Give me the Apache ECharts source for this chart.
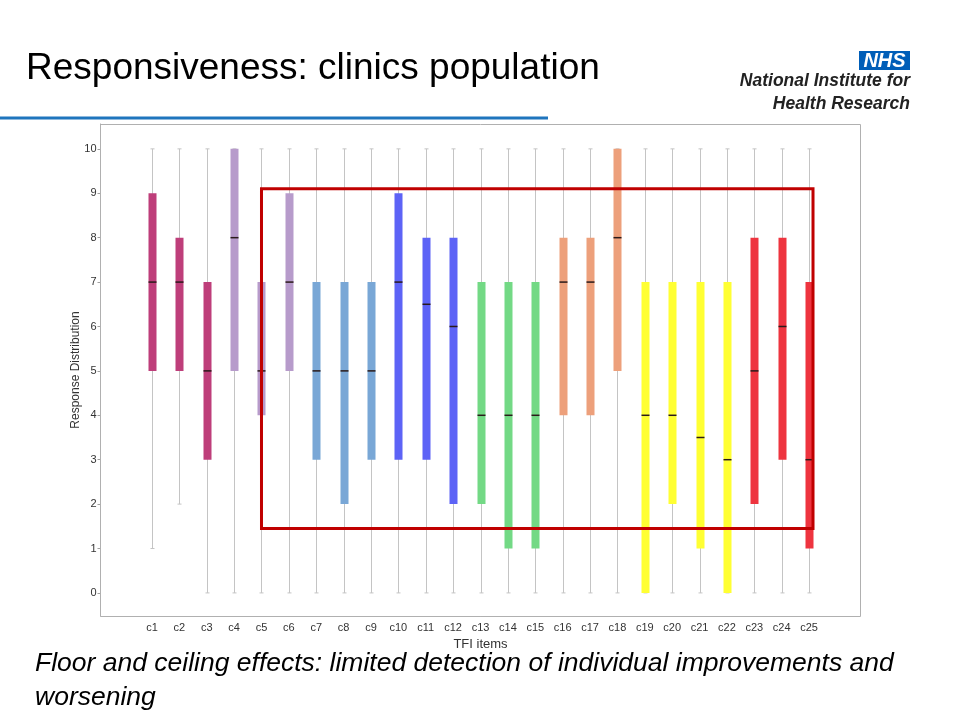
<!DOCTYPE html>
<html>
<head>
<meta charset="utf-8">
<script src="https://cdn.jsdelivr.net/npm/echarts@6/dist/echarts.min.js"></script>
<style>
html,body{margin:0;padding:0;background:#fff;}
#c{width:960px;height:720px;}
</style>
</head>
<body>
<div id="c"></div>
<script>
// ---- data ----
var categories = ['c1','c2','c3','c4','c5','c6','c7','c8','c9','c10','c11','c12','c13','c14','c15','c16','c17','c18','c19','c20','c21','c22','c23','c24','c25'];
var mins    = [1, 2, 0, 0, 0, 0, 0, 0, 0, 0, 0, 0, 0, 0, 0, 0, 0, 0, 0, 0, 0, 0, 0, 0, 0];
var q1s     = [5, 5, 3, 5, 4, 5, 3, 2, 3, 3, 3, 2, 2, 1, 1, 4, 4, 5, 0, 2, 1, 0, 2, 3, 1];
var medians = [7, 7, 5, 8, 5, 7, 5, 5, 5, 7, 6.5, 6, 4, 4, 4, 7, 7, 8, 4, 4, 3.5, 3, 5, 6, 3];
var q3s     = [9, 8, 7, 10, 7, 9, 7, 7, 7, 9, 8, 8, 7, 7, 7, 8, 8, 10, 7, 7, 7, 7, 8, 8, 7];
var maxs    = [10,10,10,10,10,10,10,10,10,10,10,10,10,10,10,10,10,10,10,10,10,10,10,10,10];
var yTicks  = [0,1,2,3,4,5,6,7,8,9,10];

// ---- styles ----
var boxColors = ['#be3e7a','#be3e7a','#be3e7a','#b79bcb','#b79bcb','#b79bcb','#79a7d6','#79a7d6','#79a7d6','#5d63f6','#5d63f6','#5d63f6','#73d985','#73d985','#73d985','#eda07b','#eda07b','#eda07b','#ffff33','#ffff33','#ffff33','#ffff33','#ee343f','#ee343f','#ee343f'];

var boxData = categories.map(function(c, i){
  return [i, mins[i], q1s[i], medians[i], q3s[i], maxs[i]];
});

var chart = echarts.init(document.getElementById('c'), null, {renderer:'canvas'});
var FONT = '"Liberation Sans", Arial, sans-serif';

var option = {
  backgroundColor: '#ffffff',
  animation: false,
  grid: { left: 138.3, right: 137.3, top: 124, bottom: 104, containLabel: false },
  xAxis: {
    type: 'category',
    data: categories,
    boundaryGap: true,
    name: 'TFI items',
    nameLocation: 'middle',
    nameGap: 20,
    nameTextStyle: { fontFamily: FONT, fontSize: 13, color: '#333' },
    axisLine: { onZero: false, lineStyle: { color: '#a0a0a0', width: 1 } },
    axisTick: { alignWithLabel: true, length: 3, lineStyle: { color: '#a0a0a0' } },
    axisLabel: { fontFamily: FONT, fontSize: 11, color: '#333', margin: 6, interval: 0 },
    splitLine: { show: false }
  },
  yAxis: {
    type: 'value',
    min: -0.52,
    max: 10.56,
    offset: 37.8,
    name: 'Response Distribution',
    nameLocation: 'middle',
    nameGap: 19,
    nameMoveOverlap: false,
    nameTextStyle: { fontFamily: FONT, fontSize: 12, color: '#333' },
    axisLine: { show: true, lineStyle: { color: '#a0a0a0', width: 1 } },
    axisTick: { show: true, length: 3, customValues: yTicks, lineStyle: { color: '#a0a0a0' } },
    axisLabel: { fontFamily: FONT, fontSize: 11, color: '#333', margin: 4, customValues: yTicks },
    splitLine: { show: false }
  },
  series: [{
    type: 'custom',
    data: boxData,
    encode: { x: 0, y: [1,2,3,4,5] },
    renderItem: function(params, api){
      var idx = api.value(0);
      var lo = api.coord([idx, api.value(1)]);
      var q1 = api.coord([idx, api.value(2)]);
      var md = api.coord([idx, api.value(3)]);
      var q3 = api.coord([idx, api.value(4)]);
      var hi = api.coord([idx, api.value(5)]);
      var x = Math.round(lo[0]) + 0.5;
      var w = 8;
      var col = boxColors[idx];
      return {
        type: 'group',
        children: [
          { type: 'line', shape: { x1: x, y1: hi[1], x2: x, y2: lo[1] }, style: { stroke: '#c4c4c4', lineWidth: 1 } },
          { type: 'line', shape: { x1: x - 2, y1: hi[1], x2: x + 2, y2: hi[1] }, style: { stroke: '#c4c4c4', lineWidth: 1 } },
          { type: 'line', shape: { x1: x - 2, y1: lo[1], x2: x + 2, y2: lo[1] }, style: { stroke: '#c4c4c4', lineWidth: 1 } },
          { type: 'rect', shape: { x: x - w/2, y: q3[1], width: w, height: q1[1] - q3[1] }, style: { fill: col } },
          { type: 'line', shape: { x1: x - w/2, y1: md[1], x2: x + w/2, y2: md[1] }, style: { stroke: '#2a1a1a', lineWidth: 1.5 } }
        ]
      };
    }
  }],
  graphic: [
    { type: 'rect', shape: { x: 100.5, y: 124.5, width: 760, height: 492 }, style: { fill: 'none', stroke: '#b0b0b0', lineWidth: 1 }, z: 1 },
    { type: 'text', left: 26, top: 50, style: { text: 'Responsiveness: clinics population', font: '37px ' + FONT, fill: '#000' } },
    { type: 'rect', shape: { x: 0, y: 116.5, width: 548, height: 3 }, style: { fill: '#1f75bd' } },
    { type: 'rect', shape: { x: 859, y: 51, width: 51, height: 19 }, style: { fill: '#005eb8' } },
    { type: 'text', x: 884.5, y: 61, style: { text: 'NHS', font: 'italic bold 20px ' + FONT, fill: '#fff', align: 'center', verticalAlign: 'middle' } },
    { type: 'text', x: 910, y: 81, style: { text: 'National Institute for', font: 'italic bold 17.5px ' + FONT, fill: '#222', align: 'right', verticalAlign: 'middle' } },
    { type: 'text', x: 910, y: 104, style: { text: 'Health Research', font: 'italic bold 17.5px ' + FONT, fill: '#222', align: 'right', verticalAlign: 'middle' } },
    { type: 'text', left: 35, top: 647, style: { text: 'Floor and ceiling effects: limited detection of individual improvements and\nworsening', font: 'italic 26.5px ' + FONT, fill: '#000', lineHeight: 34 } }
  ]
};
chart.setOption(option);

// red highlight rectangle from data coordinates (c5..c25, 1.45..9.1)
var p1 = chart.convertToPixel({ gridIndex: 0 }, ['c5', 9.1]);
var p2 = chart.convertToPixel({ gridIndex: 0 }, ['c25', 1.45]);
chart.setOption({
  graphic: option.graphic.concat([{
    type: 'rect',
    shape: { x: p1[0], y: p1[1], width: (p2[0] + 4) - p1[0], height: p2[1] - p1[1] },
    style: { fill: 'none', stroke: '#c00000', lineWidth: 3 },
    z: 100
  }])
});
</script>
</body>
</html>
